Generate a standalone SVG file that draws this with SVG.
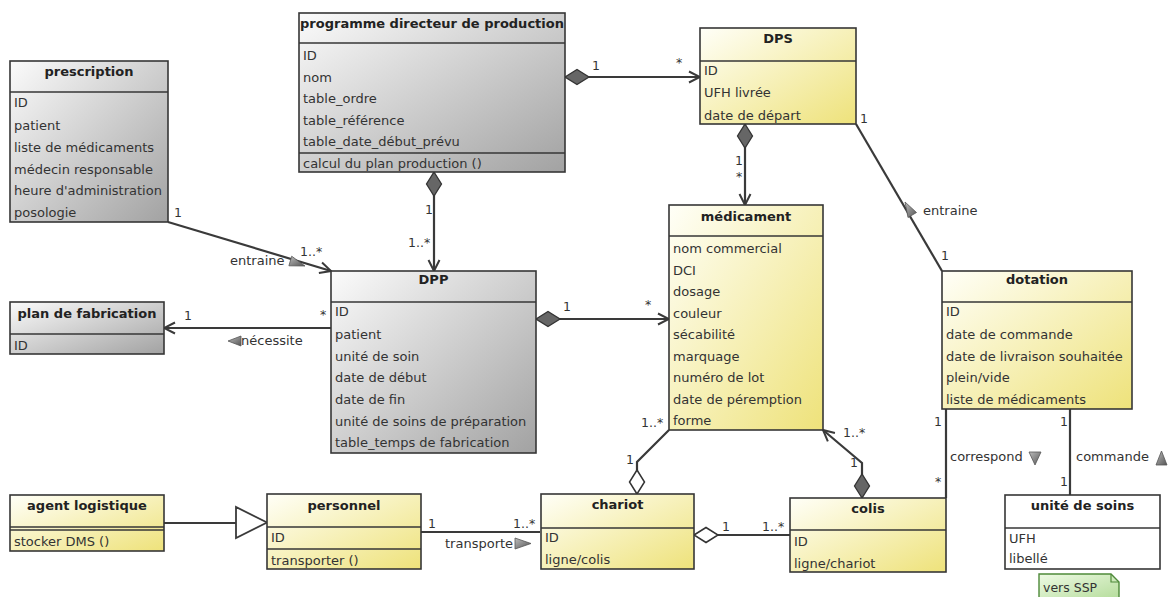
<svg xmlns="http://www.w3.org/2000/svg" width="1168" height="597" viewBox="0 0 1168 597">
<style>
.bg{fill:url(#gGray);stroke:#363636;stroke-width:1.6}
.by{fill:url(#gYel);stroke:#363636;stroke-width:1.6}
.bw{fill:#ffffff;stroke:#363636;stroke-width:1.6}
.sep{stroke:#363636;stroke-width:1.6;fill:none}
text{font-family:"DejaVu Sans","Liberation Sans",sans-serif;font-size:13px;fill:#333}
.h{font-weight:bold;text-anchor:middle;fill:#222}
.m{font-size:12.5px;fill:#333}
.c{stroke:#3a3a3a;stroke-width:2.2;fill:none}
.tri{fill:url(#gTri);stroke:#555;stroke-width:0.8}
</style>
<defs>
<linearGradient id="gGray" x1="0" y1="0" x2="1" y2="1"><stop offset="0" stop-color="#fbfbfb"/><stop offset="1" stop-color="#a2a2a2"/></linearGradient>
<linearGradient id="gYel" x1="0" y1="0" x2="1" y2="1"><stop offset="0" stop-color="#fffff8"/><stop offset="1" stop-color="#eee27a"/></linearGradient>
<linearGradient id="gTri" x1="0" y1="0" x2="1" y2="1"><stop offset="0" stop-color="#bdbdbd"/><stop offset="1" stop-color="#555"/></linearGradient>
<linearGradient id="gNote" x1="0" y1="0" x2="1" y2="1"><stop offset="0" stop-color="#eefae4"/><stop offset="1" stop-color="#b4dc9a"/></linearGradient>
<marker id="dFill" viewBox="-1 -9 27 18" refX="0" refY="0" markerWidth="27" markerHeight="18" markerUnits="userSpaceOnUse" orient="auto"><path d="M0,0 L12,-7.5 L24,0 L12,7.5 Z" fill="#666" stroke="#333" stroke-width="1.3"/></marker>
<marker id="dOpen" viewBox="-1 -9 27 18" refX="0" refY="0" markerWidth="27" markerHeight="18" markerUnits="userSpaceOnUse" orient="auto"><path d="M0,0 L12,-7.5 L24,0 L12,7.5 Z" fill="#fff" stroke="#333" stroke-width="1.5"/></marker>
<marker id="arr" viewBox="-14 -8 16 16" refX="0" refY="0" markerWidth="16" markerHeight="16" markerUnits="userSpaceOnUse" orient="auto"><path d="M-11,-5.5 L0,0 L-11,5.5" fill="none" stroke="#3a3a3a" stroke-width="2"/></marker>
</defs>
<rect width="1168" height="597" fill="#fff"/>

<g id="connectors">
<path class="c" d="M168,222 L331,271" marker-end="url(#arr)"/>
<path class="c" d="M565,77 L700,77" marker-start="url(#dFill)" marker-end="url(#arr)"/>
<path class="c" d="M434,172 L434,271" marker-start="url(#dFill)" marker-end="url(#arr)"/>
<path class="c" d="M745,124 L745,205" marker-start="url(#dFill)" marker-end="url(#arr)"/>
<path class="c" d="M536,319 L669,319" marker-start="url(#dFill)" marker-end="url(#arr)"/>
<path class="c" d="M331,328 L164,328" marker-end="url(#arr)"/>
<path class="c" d="M856,124 L942,271"/>
<path class="c" d="M946,409 L946,498"/>
<path class="c" d="M1070,409 L1070,495"/>
<path class="c" d="M637,494 L637,462 L669,430" marker-start="url(#dOpen)"/>
<path class="c" d="M862,498 L862,463 L823,430" marker-start="url(#dFill)" marker-end="url(#arr)"/>
<path class="c" d="M694,535 L790,535" marker-start="url(#dOpen)"/>
<path class="c" d="M421,532 L540,532"/>
<path class="c" d="M164,523 L236,523"/>
<polygon points="236,507 236,538 267,522.5" fill="#fff" stroke="#3a3a3a" stroke-width="1.8"/>
<text class="m" x="174" y="217">1</text>
<text class="m" x="300" y="256">1..*</text>
<text x="230" y="265">entraine</text>
<polygon class="tri" points="291.7,256.2 288.9,265.8 305,266"/>
<text class="m" x="425" y="214">1</text>
<text class="m" x="408" y="247">1..*</text>
<text class="m" x="592" y="70">1</text>
<text class="m" x="676" y="67">*</text>
<text class="m" x="735" y="165">1</text>
<text class="m" x="736" y="181">*</text>
<text class="m" x="860" y="123">1</text>
<text class="m" x="941" y="260">1</text>
<text x="923" y="215">entraine</text>
<polygon class="tri" points="905,202 916.5,212.5 908,217.5"/>
<text class="m" x="563" y="311">1</text>
<text class="m" x="645" y="309">*</text>
<text class="m" x="184" y="320">1</text>
<text class="m" x="320" y="319">*</text>
<text x="241" y="345">nécessite</text>
<polygon class="tri" points="228,341 241,336 241,346"/>
<text class="m" x="641" y="427">1..*</text>
<text class="m" x="626" y="464">1</text>
<text class="m" x="843" y="437">1..*</text>
<text class="m" x="850" y="467">1</text>
<text class="m" x="934" y="426">1</text>
<text class="m" x="935" y="486">*</text>
<text x="950" y="461">correspond</text>
<polygon class="tri" points="1029,452 1041,452 1035,465"/>
<text class="m" x="1060" y="426">1</text>
<text x="1076" y="461">commande</text>
<polygon class="tri" points="1156,465 1167,465 1161.5,451"/>
<text class="m" x="1060" y="486">1</text>
<text class="m" x="428" y="528">1</text>
<text class="m" x="513" y="528">1..*</text>
<text x="445" y="548">transporte</text>
<polygon class="tri" points="515,538 515,549 531,543.5"/>
<text class="m" x="722" y="531">1</text>
<text class="m" x="762" y="531">1..*</text>
</g>

<g id="prescription">
<rect class="bg" x="10" y="61" width="158" height="161"/>
<line class="sep" x1="10" y1="92" x2="168" y2="92"/>
<text class="h" x="89" y="76">prescription</text>
<text x="14" y="107">ID</text>
<text x="14" y="129.5">patient</text>
<text x="14" y="151.5">liste de médicaments</text>
<text x="14" y="173.5">médecin responsable</text>
<text x="14" y="195">heure d'administration</text>
<text x="14" y="216.5">posologie</text>
</g>

<g id="programme">
<rect class="bg" x="299" y="13" width="266" height="159"/>
<line class="sep" x1="299" y1="43" x2="565" y2="43"/>
<line class="sep" x1="299" y1="153" x2="565" y2="153"/>
<text class="h" x="432" y="28">programme directeur de production</text>
<text x="303" y="60">ID</text>
<text x="303" y="81.5">nom</text>
<text x="303" y="103">table_ordre</text>
<text x="303" y="124.5">table_référence</text>
<text x="303" y="146">table_date_début_prévu</text>
<text x="303" y="168">calcul du plan production ()</text>
</g>

<g id="DPS">
<rect class="by" x="700" y="28" width="156" height="96"/>
<line class="sep" x1="700" y1="61" x2="856" y2="61"/>
<text class="h" x="778" y="43">DPS</text>
<text x="704" y="75">ID</text>
<text x="704" y="97">UFH livrée</text>
<text x="704" y="119.5">date de départ</text>
</g>

<g id="medicament">
<rect class="by" x="669" y="205" width="154" height="225"/>
<line class="sep" x1="669" y1="236" x2="823" y2="236"/>
<text class="h" x="746" y="221">médicament</text>
<text x="673" y="253">nom commercial</text>
<text x="673" y="274.5">DCI</text>
<text x="673" y="296">dosage</text>
<text x="673" y="318">couleur</text>
<text x="673" y="339">sécabilité</text>
<text x="673" y="360.5">marquage</text>
<text x="673" y="382">numéro de lot</text>
<text x="673" y="403.5">date de péremption</text>
<text x="673" y="425">forme</text>
</g>

<g id="DPP">
<rect class="bg" x="331" y="271" width="205" height="182"/>
<line class="sep" x1="331" y1="302" x2="536" y2="302"/>
<text class="h" x="433.5" y="284">DPP</text>
<text x="335" y="316">ID</text>
<text x="335" y="338.5">patient</text>
<text x="335" y="360.5">unité de soin</text>
<text x="335" y="382">date de début</text>
<text x="335" y="403.5">date de fin</text>
<text x="335" y="425.5">unité de soins de préparation</text>
<text x="335" y="447">table_temps de fabrication</text>
</g>

<g id="dotation">
<rect class="by" x="942" y="271" width="190" height="138"/>
<line class="sep" x1="942" y1="302" x2="1132" y2="302"/>
<text class="h" x="1037" y="284">dotation</text>
<text x="946" y="316">ID</text>
<text x="946" y="338.5">date de commande</text>
<text x="946" y="360.5">date de livraison souhaitée</text>
<text x="946" y="382">plein/vide</text>
<text x="946" y="403.5">liste de médicaments</text>
</g>

<g id="plan-de-fabrication">
<rect class="bg" x="10" y="302" width="154" height="52"/>
<line class="sep" x1="10" y1="334" x2="164" y2="334"/>
<text class="h" x="87" y="318">plan de fabrication</text>
<text x="14" y="349.5">ID</text>
</g>

<g id="agent-logistique">
<rect class="by" x="10" y="495" width="154" height="56"/>
<line class="sep" x1="10" y1="527" x2="164" y2="527"/>
<line class="sep" x1="10" y1="530" x2="164" y2="530"/>
<text class="h" x="87" y="510">agent logistique</text>
<text x="14" y="545.5">stocker DMS ()</text>
</g>

<g id="personnel">
<rect class="by" x="267" y="494" width="154" height="75"/>
<line class="sep" x1="267" y1="527" x2="421" y2="527"/>
<line class="sep" x1="267" y1="549" x2="421" y2="549"/>
<text class="h" x="344" y="510">personnel</text>
<text x="271" y="542">ID</text>
<text x="271" y="564.5">transporter ()</text>
</g>

<g id="chariot">
<rect class="by" x="541" y="494" width="153" height="75"/>
<line class="sep" x1="541" y1="528" x2="694" y2="528"/>
<text class="h" x="617.5" y="509">chariot</text>
<text x="545" y="541.5">ID</text>
<text x="545" y="563.5">ligne/colis</text>
</g>

<g id="colis">
<rect class="by" x="790" y="498" width="156" height="74"/>
<line class="sep" x1="790" y1="530" x2="946" y2="530"/>
<text class="h" x="868" y="512.5">colis</text>
<text x="794" y="545.5">ID</text>
<text x="794" y="567.5">ligne/chariot</text>
</g>

<g id="unite-de-soins">
<rect class="bw" x="1005" y="495" width="155" height="74"/>
<line class="sep" x1="1005" y1="528" x2="1160" y2="528"/>
<text class="h" x="1082.5" y="510">unité de soins</text>
<text x="1009" y="542.5">UFH</text>
<text x="1009" y="563">libellé</text>
</g>

<g id="note-vers-SSP">
<path d="M1039,574 H1111 L1119,582 V600 H1039 Z" fill="url(#gNote)" stroke="#4f8a3a" stroke-width="1.4"/>
<path d="M1111,574 V582 H1119" fill="none" stroke="#4f8a3a" stroke-width="1.2"/>
<text x="1043" y="592" style="font-size:12.5px">vers SSP</text>
</g>
</svg>
